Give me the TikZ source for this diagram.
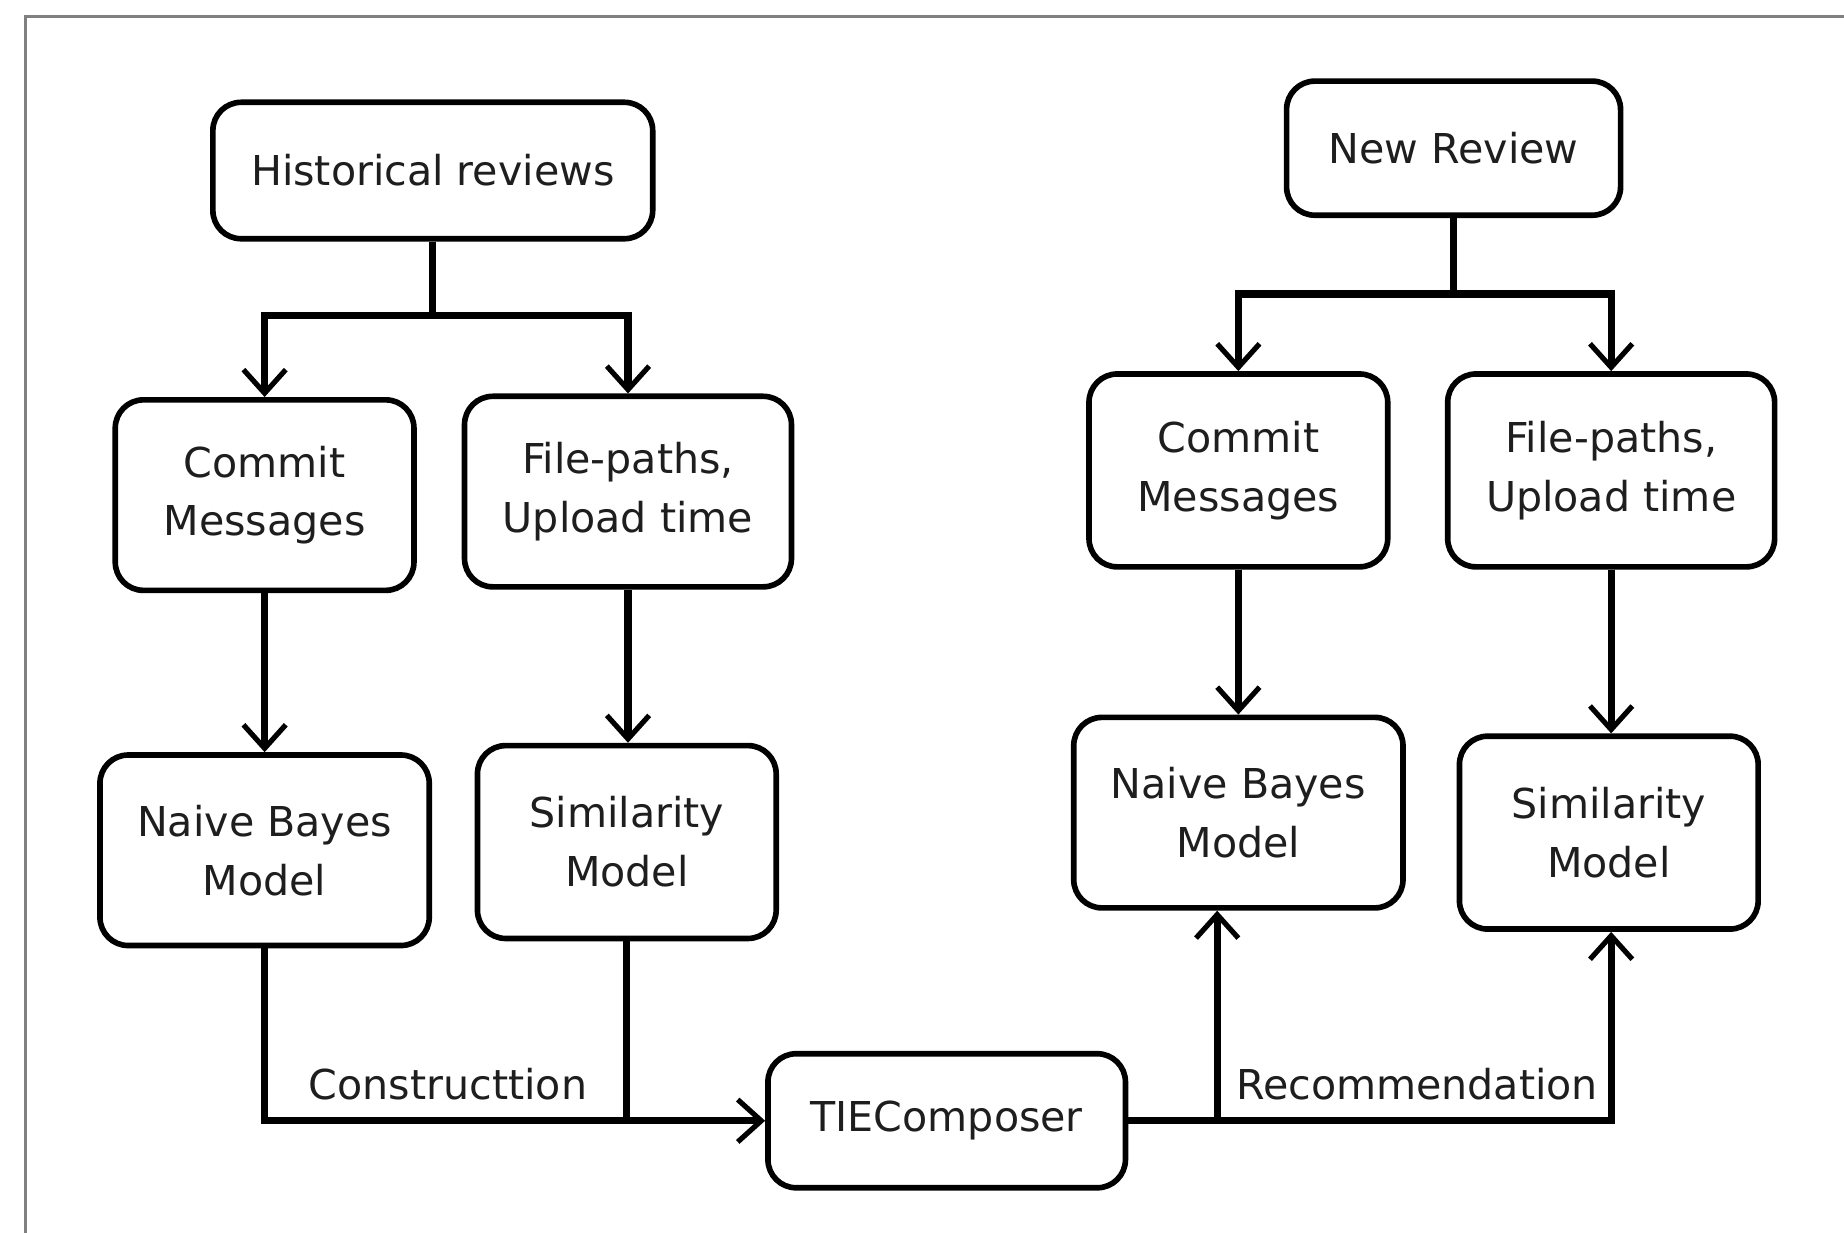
\documentclass[tikz,border=0pt]{standalone}
\usepackage{fontspec}
\setmainfont{DejaVu Sans}
\usetikzlibrary{arrows.meta}
\definecolor{txt}{HTML}{1E1E1E}
\tikzset{
  box/.style={draw=black, line width=2.4pt, rounded corners=12pt, fill=white, align=center,
    text=txt, font=\fontsize{17.5}{25}\selectfont, inner sep=0pt},
  conn/.style={line width=3pt, draw=black},
  arr/.style={conn, -{Straight Barb[length=10pt,width=18pt,line width=2.2pt]}},
  lbl/.style={text=txt, font=\fontsize{17.5}{25}\selectfont, inner sep=0pt}
}
\begin{document}
\begin{tikzpicture}[x=0.5pt,y=-0.5pt]
\useasboundingbox (0,0) rectangle (1568,1048);
\fill[white] (0,0) rectangle (1568,1048);
\begin{scope}
\clip (0,0) rectangle (1568,1048);
\draw[gray, line width=1.2pt] (22,14) rectangle (1620,1100);
\end{scope}
% nodes
\node[box, minimum width=187pt, minimum height=58pt] (hist) at (368,145) {Historical reviews};
\node[box, minimum width=142pt, minimum height=57pt] (newr) at (1236,126) {New Review};
\node[box, minimum width=127pt, minimum height=81pt] (cmL) at (225,421) {Commit\\Messages};
\node[box, minimum width=139pt, minimum height=81pt] (fpL) at (534,418) {File-paths,\\Upload time};
\node[box, minimum width=140pt, minimum height=81pt] (nbL) at (225,723) {Naive Bayes\\Model};
\node[box, minimum width=127pt, minimum height=82pt] (smL) at (533,716) {Similarity\\Model};
\node[box, minimum width=152pt, minimum height=57pt] (tie) at (805,953) {TIEComposer};
\node[box, minimum width=127pt, minimum height=82pt] (cmR) at (1053,400) {Commit\\Messages};
\node[box, minimum width=139pt, minimum height=82pt] (fpR) at (1370,400) {File-paths,\\Upload time};
\node[box, minimum width=140pt, minimum height=81pt] (nbR) at (1053,691) {Naive Bayes\\Model};
\node[box, minimum width=127pt, minimum height=82pt] (smR) at (1368,708) {Similarity\\Model};
% top splits
\coordinate (hs) at (368,268);
\draw[conn] (hist.south) -- (hs);
\draw[arr] (hs) -| (cmL.north);
\draw[arr] (hs) -| (fpL.north);
\coordinate (ns) at (1236,250);
\draw[conn] (newr.south) -- (ns);
\draw[arr] (ns) -| (cmR.north);
\draw[arr] (ns) -| (fpR.north);
% verticals
\draw[arr] (cmL.south) -- (nbL.north);
\draw[arr] (fpL.south) -- (fpL.south |- smL.north);
\draw[arr] (cmR.south) -- (nbR.north);
\draw[arr] (fpR.south) -- (fpR.south |- smR.north);
% construction
\draw[arr] (nbL.south) |- (tie.west);
\draw[conn] (smL.south) -- (smL.south |- tie.west);
\node[lbl] (lc) at (381,922) {Constructtion};
% recommendation
\coordinate (jr) at (1035,953);
\draw[arr] (tie.east) -| (fpR.south |- smR.south);
\draw[arr] (jr) -- (jr |- nbR.south);
\node[lbl] (lr) at (1205,922) {Recommendation};
\end{tikzpicture}
\end{document}
